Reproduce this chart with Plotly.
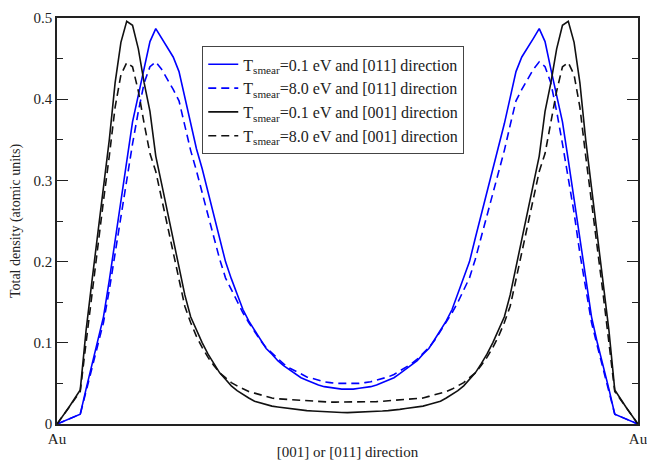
import plotly.graph_objects as go

# position along the line (fraction of the distance between the two Au atoms)
x_pos = [0.00, 0.02, 0.04, 0.05, 0.06, 0.07, 0.08, 0.09, 0.10, 0.11, 0.12, 0.13, 0.14, 0.15,
         0.16, 0.17, 0.18, 0.19, 0.20, 0.21, 0.22, 0.23, 0.24, 0.25, 0.26, 0.27, 0.28, 0.29,
         0.30, 0.31, 0.32, 0.33, 0.34, 0.35, 0.36, 0.37, 0.38, 0.39, 0.40, 0.41, 0.42, 0.43,
         0.44, 0.45, 0.46, 0.47, 0.48, 0.49, 0.50,
         0.51, 0.52, 0.53, 0.54, 0.55, 0.56, 0.57, 0.58, 0.59, 0.60, 0.61, 0.62, 0.63, 0.64,
         0.65, 0.66, 0.67, 0.68, 0.69, 0.70, 0.71, 0.72, 0.73, 0.74, 0.75, 0.76, 0.77, 0.78,
         0.79, 0.80, 0.81, 0.82, 0.83, 0.84, 0.85, 0.86, 0.87, 0.88, 0.89, 0.90, 0.91, 0.92,
         0.93, 0.94, 0.95, 0.96, 0.98, 1.00]

# T_smear = 0.1 eV, [011] direction
blue_solid = [0.000, 0.006, 0.012, 0.043, 0.073, 0.100, 0.132, 0.177, 0.226, 0.276, 0.325, 0.372, 0.405, 0.437,
              0.471, 0.487, 0.475, 0.463, 0.452, 0.434, 0.402, 0.370, 0.339, 0.314, 0.286, 0.257, 0.229, 0.200,
              0.179, 0.160, 0.141, 0.127, 0.116, 0.104, 0.093, 0.086, 0.078, 0.072, 0.067, 0.062, 0.057, 0.054,
              0.051, 0.048, 0.046, 0.045, 0.044, 0.043, 0.043,
              0.043, 0.044, 0.045, 0.046, 0.048, 0.051, 0.054, 0.057, 0.062, 0.067, 0.072, 0.078, 0.086, 0.093,
              0.104, 0.116, 0.127, 0.141, 0.160, 0.179, 0.200, 0.229, 0.257, 0.286, 0.314, 0.339, 0.370, 0.402,
              0.434, 0.452, 0.463, 0.475, 0.487, 0.471, 0.437, 0.405, 0.372, 0.325, 0.276, 0.226, 0.177, 0.132,
              0.100, 0.073, 0.043, 0.012, 0.006, 0.000]

# T_smear = 8.0 eV, [011] direction
blue_dash = [0.000, 0.006, 0.012, 0.040, 0.068, 0.096, 0.125, 0.165, 0.210, 0.260, 0.305, 0.345, 0.385, 0.420,
             0.440, 0.446, 0.437, 0.425, 0.412, 0.398, 0.368, 0.337, 0.312, 0.283, 0.257, 0.230, 0.203, 0.180,
             0.165, 0.150, 0.137, 0.125, 0.114, 0.103, 0.094, 0.087, 0.080, 0.074, 0.069, 0.065, 0.061, 0.058,
             0.056, 0.054, 0.052, 0.051, 0.050, 0.050, 0.050,
             0.050, 0.050, 0.051, 0.052, 0.054, 0.056, 0.058, 0.061, 0.065, 0.069, 0.074, 0.080, 0.087, 0.094,
             0.103, 0.114, 0.125, 0.137, 0.150, 0.165, 0.180, 0.203, 0.230, 0.257, 0.283, 0.312, 0.337, 0.368,
             0.398, 0.412, 0.425, 0.437, 0.446, 0.440, 0.420, 0.385, 0.345, 0.305, 0.260, 0.210, 0.165, 0.125,
             0.096, 0.068, 0.040, 0.012, 0.006, 0.000]

# T_smear = 0.1 eV, [001] direction
black_solid = [0.000, 0.020, 0.042, 0.115, 0.175, 0.234, 0.291, 0.350, 0.420, 0.470, 0.496, 0.491, 0.462, 0.420,
               0.385, 0.330, 0.296, 0.262, 0.228, 0.194, 0.159, 0.132, 0.115, 0.100, 0.086, 0.074, 0.063, 0.055,
               0.047, 0.041, 0.036, 0.032, 0.028, 0.026, 0.024, 0.022, 0.021, 0.020, 0.019, 0.018, 0.017, 0.0165,
               0.016, 0.0155, 0.015, 0.0148, 0.0145, 0.0142, 0.014,
               0.0142, 0.0145, 0.0148, 0.015, 0.0155, 0.016, 0.0165, 0.017, 0.018, 0.019, 0.020, 0.021, 0.022, 0.024,
               0.026, 0.028, 0.032, 0.036, 0.041, 0.047, 0.055, 0.063, 0.074, 0.086, 0.100, 0.115, 0.132, 0.159,
               0.194, 0.228, 0.262, 0.296, 0.330, 0.385, 0.420, 0.462, 0.491, 0.496, 0.470, 0.420, 0.350, 0.291,
               0.234, 0.175, 0.115, 0.042, 0.020, 0.000]

# T_smear = 8.0 eV, [001] direction
black_dash = [0.000, 0.020, 0.040, 0.100, 0.160, 0.220, 0.275, 0.330, 0.390, 0.430, 0.445, 0.440, 0.410, 0.370,
              0.333, 0.311, 0.278, 0.245, 0.211, 0.178, 0.145, 0.125, 0.108, 0.094, 0.082, 0.072, 0.063, 0.057,
              0.051, 0.047, 0.043, 0.040, 0.038, 0.036, 0.034, 0.032, 0.031, 0.0305, 0.030, 0.0295, 0.029, 0.0285,
              0.028, 0.0275, 0.027, 0.027, 0.027, 0.027, 0.027,
              0.027, 0.027, 0.027, 0.027, 0.0275, 0.028, 0.0285, 0.029, 0.0295, 0.030, 0.0305, 0.031, 0.032, 0.034,
              0.036, 0.038, 0.040, 0.043, 0.047, 0.051, 0.057, 0.063, 0.072, 0.082, 0.094, 0.108, 0.125, 0.145,
              0.178, 0.211, 0.245, 0.278, 0.311, 0.333, 0.370, 0.410, 0.440, 0.445, 0.430, 0.390, 0.330, 0.275,
              0.220, 0.160, 0.100, 0.040, 0.020, 0.000]

for arr in (blue_solid, blue_dash, black_solid, black_dash):
    assert len(arr) == len(x_pos), (len(arr), len(x_pos))

series_names = ["T<sub>smear</sub>=0.1 eV and [011] direction",
                "T<sub>smear</sub>=8.0 eV and [011] direction",
                "T<sub>smear</sub>=0.1 eV and [001] direction",
                "T<sub>smear</sub>=8.0 eV and [001] direction"]
y_ticks = [0, 0.1, 0.2, 0.3, 0.4, 0.5]
y_tick_labels = ["0", "0.1", "0.2", "0.3", "0.4", "0.5"]
x_ticks = [0, 1]
x_tick_labels = ["Au", "Au"]

fig = go.Figure()
styles = [("#0000ff", "solid", blue_solid), ("#0000ff", "8px,5px", blue_dash),
          ("#111111", "solid", black_solid), ("#111111", "8px,5px", black_dash)]
for name, (color, dash, ys) in zip(series_names, styles):
    fig.add_trace(go.Scatter(x=x_pos, y=ys, mode="lines", name=name,
                             line=dict(color=color, width=1.6, dash=dash)))

font = "Liberation Serif, Times New Roman, serif"
fig.update_layout(
    width=647, height=460,
    margin=dict(l=57, r=9, t=18, b=36),
    paper_bgcolor="white", plot_bgcolor="white",
    font=dict(family=font, size=15, color="#222"),
    showlegend=True,
    legend=dict(x=0.25, y=0.93, xanchor="left", yanchor="top",
                bordercolor="#444", borderwidth=1, bgcolor="white",
                font=dict(family=font, size=16, color="#222"),
                tracegroupgap=0, itemwidth=30),
    xaxis=dict(range=[0, 1], tickvals=x_ticks, ticktext=x_tick_labels, automargin=False,
               ticklabeloverflow="allow",
               showgrid=False, zeroline=False, showline=True, linecolor="#222",
               linewidth=1.5, mirror=True, ticks="", ticklen=0,
               tickfont=dict(family=font, size=15),
               title=dict(text="[001] or [011] direction", standoff=6,
                          font=dict(family=font, size=15))),
    yaxis=dict(range=[0, 0.5], tickvals=y_ticks, ticktext=y_tick_labels, automargin=False,
               ticklabeloverflow="allow",
               showgrid=False, zeroline=False, showline=True, linecolor="#222",
               linewidth=1.5, mirror="allticks", ticks="inside", ticklen=11,
               tickcolor="#222", tickwidth=1.2,
               tickfont=dict(family=font, size=15),
               minor=dict(ticks="inside", ticklen=6, dtick=0.05, tickcolor="#222", tickwidth=1.2),
               title=dict(text="Total density (atomic units)", standoff=10,
                          font=dict(family=font, size=14))),
)

fig.write_html("out.html")
